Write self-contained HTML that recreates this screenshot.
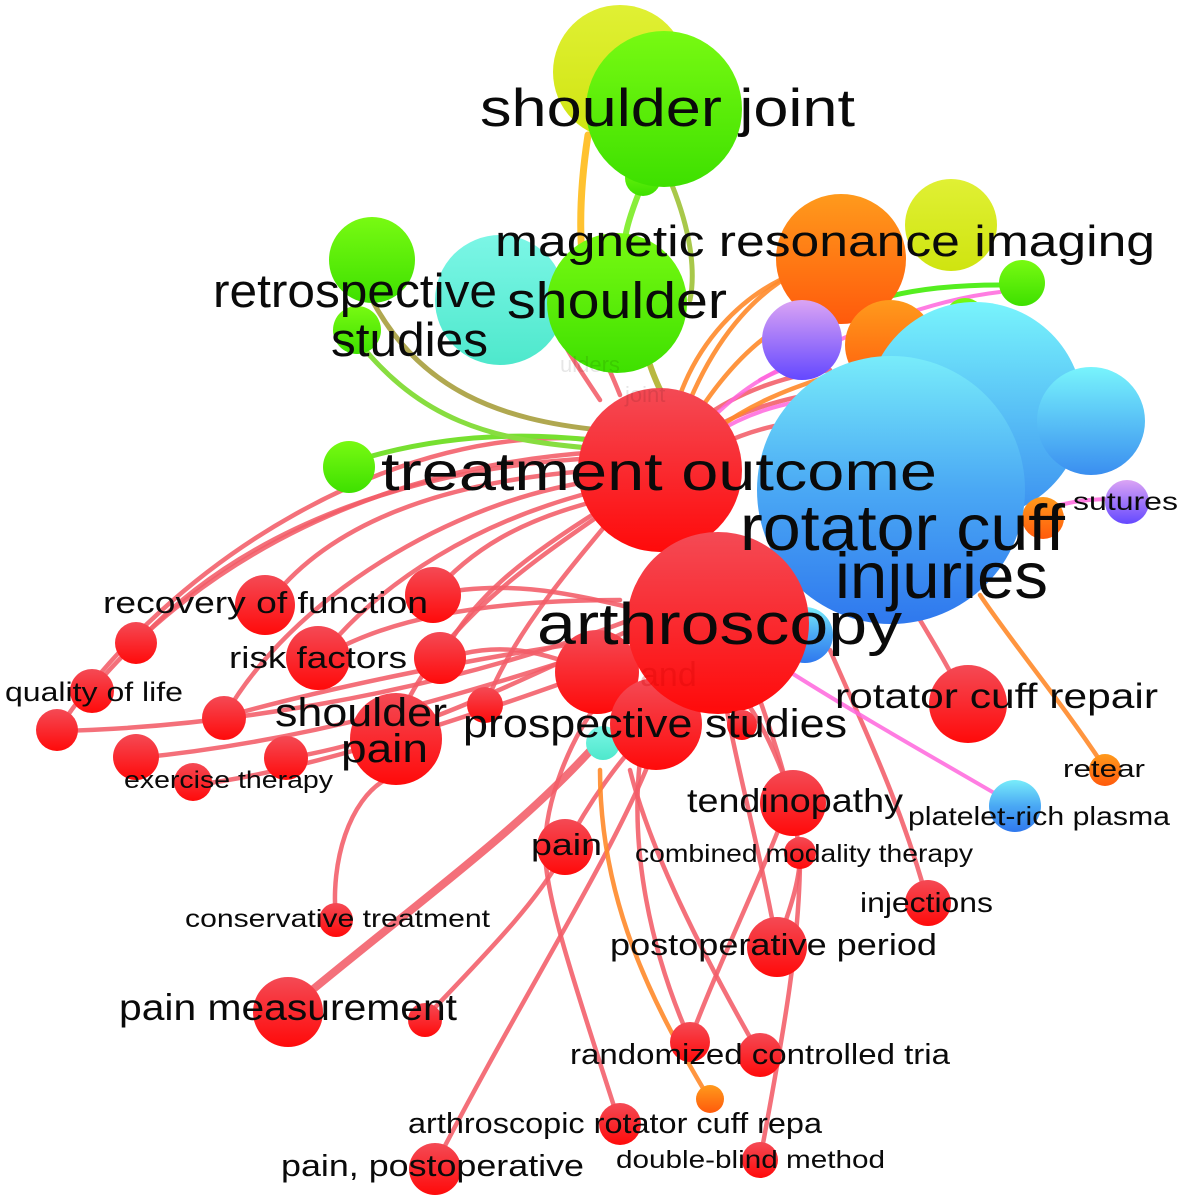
<!DOCTYPE html>
<html><head><meta charset="utf-8"><style>
html,body{margin:0;padding:0;background:#fff;}
svg{display:block;}
text{font-family:"Liberation Sans","DejaVu Sans",sans-serif;fill:#0a0a0a;}
</style></head><body>
<svg width="1181" height="1200" viewBox="0 0 1181 1200" xmlns="http://www.w3.org/2000/svg">
<defs>
<linearGradient id="gr" x1="0" y1="0" x2="0" y2="1"><stop offset="0" stop-color="#f44a55"/><stop offset="1" stop-color="#ff0a0a"/></linearGradient>
<linearGradient id="gg" x1="0" y1="0" x2="0" y2="1"><stop offset="0" stop-color="#78fa12"/><stop offset="1" stop-color="#3ee000"/></linearGradient>
<linearGradient id="gy" x1="0" y1="0" x2="0" y2="1"><stop offset="0" stop-color="#e0f034"/><stop offset="1" stop-color="#cfe410"/></linearGradient>
<linearGradient id="go" x1="0" y1="0" x2="0" y2="1"><stop offset="0" stop-color="#ff9a1c"/><stop offset="1" stop-color="#ff5a0c"/></linearGradient>
<linearGradient id="gp" x1="0" y1="0" x2="0" y2="1"><stop offset="0" stop-color="#dba4f4"/><stop offset="1" stop-color="#6448ff"/></linearGradient>
<linearGradient id="gc" x1="0" y1="0" x2="0" y2="1"><stop offset="0" stop-color="#7cf6e6"/><stop offset="1" stop-color="#4ee8cc"/></linearGradient>
<linearGradient id="glb" x1="0" y1="0" x2="0" y2="1"><stop offset="0" stop-color="#78f4fc"/><stop offset="1" stop-color="#3a8ef0"/></linearGradient>
<linearGradient id="gb" x1="0" y1="0" x2="0" y2="1"><stop offset="0" stop-color="#78ecfa"/><stop offset="0.5" stop-color="#4aa8f4"/><stop offset="1" stop-color="#2f78ee"/></linearGradient>
</defs>

<!-- edges -->
<g fill="none" stroke-linecap="round">
 <g stroke="#f25c68" stroke-opacity="0.88" stroke-width="4.5">
  <path d="M600,440 C 400,420 170,560 57,731"/>
  <path d="M600,452 C 380,465 200,560 92,690"/>
  <path d="M600,458 C 430,465 250,520 137,643"/>
  <path d="M600,470 C 450,480 330,520 267,605"/>
  <path d="M600,480 C 450,500 290,600 224,717"/>
  <path d="M600,490 C 480,520 380,580 318,660"/>
  <path d="M600,500 C 520,520 470,550 432,595"/>
  <path d="M600,510 C 520,560 470,600 440,660"/>
  <path d="M600,515 C 520,570 420,640 390,745"/>
  <path d="M610,520 C 560,580 510,640 485,706"/>
  <path d="M57,731 C 200,728 420,700 630,620"/>
  <path d="M137,758 C 300,742 450,700 630,640"/>
  <path d="M195,785 C 300,772 450,725 640,655"/>
  <path d="M288,758 C 400,740 500,690 630,630"/>
  <path d="M440,660 C 500,640 540,650 600,675"/>
  <path d="M432,595 C 500,580 560,590 640,610"/>
  <path d="M318,660 C 380,620 480,600 620,600"/>
  <path d="M224,717 C 320,690 460,660 600,640"/>
  <path d="M288,1010 C 420,900 520,830 600,740" stroke-width="8"/>
  <path d="M336,920 C 330,860 350,800 385,780"/>
  <path d="M425,1018 C 480,960 540,900 565,850"/>
  <path d="M435,1165 C 520,1000 610,860 650,760"/>
  <path d="M620,1125 C 580,1000 545,900 545,850 C 545,800 570,740 600,700"/>
  <path d="M565,848 C 590,800 620,760 640,740"/>
  <path d="M690,1040 C 720,960 760,880 790,800"/>
  <path d="M760,1055 C 700,950 650,850 630,770"/>
  <path d="M760,1160 C 780,1050 800,950 800,855"/>
  <path d="M777,945 C 790,910 800,880 800,855"/>
  <path d="M777,945 C 760,850 735,760 725,700"/>
  <path d="M793,803 C 780,760 760,720 745,700"/>
  <path d="M800,855 C 790,780 770,730 760,700"/>
  <path d="M928,903 C 900,800 860,720 830,650"/>
  <path d="M968,705 C 950,670 935,645 920,620"/>
  <path d="M690,1040 C 650,950 630,850 640,760"/>
  <path d="M700,420 C 740,390 790,375 830,370"/>
  <path d="M710,430 C 760,400 810,395 860,385"/>
  <path d="M720,445 C 770,420 820,420 870,410"/>
  <path d="M600,400 C 580,370 570,355 565,345"/>
  <path d="M620,395 C 610,370 605,360 600,350"/>
 </g>
 <g stroke="#ff66dd" stroke-opacity="0.85" stroke-width="4">
  <path d="M1015,805 C 920,750 850,710 790,672"/>
  <path d="M1127,500 C 1100,498 1080,500 1060,505"/>
  <path d="M1000,292 C 930,300 850,330 760,380"/>
  <path d="M705,425 C 740,390 770,370 800,365"/>
  <path d="M712,435 C 760,405 800,400 850,395"/>
 </g>
 <g stroke="#ff8a2a" stroke-opacity="0.9" stroke-width="4.5">
  <path d="M1105,768 C 1060,700 1010,640 980,595"/>
  <path d="M710,1100 C 650,1000 600,900 600,770"/>
  <path d="M690,400 C 720,330 760,290 800,270"/>
  <path d="M700,410 C 740,350 780,320 820,310"/>
  <path d="M680,395 C 700,340 740,300 780,280"/>
  <path d="M715,430 C 770,390 820,380 880,360"/>
 </g>
 <path d="M588,135 C 578,200 578,260 590,300" stroke="#ffc230" stroke-width="7"/>
 <path d="M640,190 C 632,210 626,228 625,240" stroke="#88ee3a" stroke-width="6"/>
 <path d="M672,185 C 690,230 696,270 690,300" stroke="#a8c84a" stroke-width="5"/>
 <path d="M650,365 C 655,380 660,390 665,400" stroke="#b8b840" stroke-width="6"/>
 <path d="M1000,285 C 930,285 870,295 830,320" stroke="#55ee20" stroke-width="5"/>
 <path d="M348,463 C 420,440 500,430 590,440" stroke="#77e030" stroke-width="5"/>
 <path d="M372,300 C 420,390 500,420 600,430" stroke="#b0a850" stroke-width="5"/>
 <path d="M357,340 C 420,420 490,440 590,448" stroke="#88dd40" stroke-width="5"/>
</g>

<!-- nodes -->
<g>
 <circle cx="620" cy="72" r="67" fill="url(#gy)"/>
 <circle cx="643" cy="178" r="18" fill="url(#gg)"/>
 <circle cx="664" cy="109" r="78" fill="url(#gg)"/>
 <circle cx="500" cy="300" r="65" fill="url(#gc)"/>
 <circle cx="372" cy="260" r="43" fill="url(#gg)"/>
 <circle cx="357" cy="330" r="24" fill="url(#gg)"/>
 <circle cx="617" cy="303" r="70" fill="url(#gg)"/>
 <circle cx="951" cy="225" r="46" fill="url(#gy)"/>
 <circle cx="841" cy="259" r="65" fill="url(#go)"/>
 <circle cx="802" cy="340" r="40" fill="url(#gp)"/>
 <circle cx="890" cy="345" r="45" fill="url(#go)"/>
 <circle cx="965" cy="318" r="20" fill="url(#gg)"/>
 <circle cx="975" cy="410" r="108" fill="url(#glb)"/>
 <circle cx="1091" cy="421" r="54" fill="url(#glb)"/>
 <circle cx="1043" cy="518" r="21" fill="url(#go)"/>
 <circle cx="891" cy="490" r="134" fill="url(#gb)"/>
 <circle cx="1022" cy="283" r="23" fill="url(#gg)"/>
 <circle cx="1127" cy="502" r="22" fill="url(#gp)"/>
 <circle cx="349" cy="467" r="26" fill="url(#gg)"/>

 <circle cx="660" cy="470" r="82" fill="url(#gr)"/>
 <circle cx="805" cy="635" r="28" fill="url(#gb)"/>
 <circle cx="597" cy="672" r="42" fill="url(#gr)"/>
 <circle cx="603" cy="743" r="17" fill="url(#gc)"/>
 <circle cx="656" cy="724" r="46" fill="url(#gr)"/>
 <circle cx="718" cy="623" r="91" fill="url(#gr)"/>
 <circle cx="742" cy="725" r="15" fill="url(#gr)"/>

 <circle cx="433" cy="595" r="28" fill="url(#gr)"/>
 <circle cx="265" cy="605" r="30" fill="url(#gr)"/>
 <circle cx="136" cy="643" r="21" fill="url(#gr)"/>
 <circle cx="318" cy="658" r="32" fill="url(#gr)"/>
 <circle cx="440" cy="658" r="26" fill="url(#gr)"/>
 <circle cx="92" cy="691" r="22" fill="url(#gr)"/>
 <circle cx="57" cy="730" r="21" fill="url(#gr)"/>
 <circle cx="224" cy="718" r="22" fill="url(#gr)"/>
 <circle cx="485" cy="705" r="18" fill="url(#gr)"/>
 <circle cx="396" cy="739" r="46" fill="url(#gr)"/>
 <circle cx="136" cy="757" r="23" fill="url(#gr)"/>
 <circle cx="286" cy="758" r="22" fill="url(#gr)"/>
 <circle cx="193" cy="782" r="19" fill="url(#gr)"/>

 <circle cx="968" cy="704" r="39" fill="url(#gr)"/>
 <circle cx="1105" cy="770" r="16" fill="url(#go)"/>
 <circle cx="1015" cy="806" r="26" fill="url(#gb)"/>
 <circle cx="793" cy="803" r="33" fill="url(#gr)"/>
 <circle cx="800" cy="853" r="16" fill="url(#gr)"/>
 <circle cx="928" cy="903" r="23" fill="url(#gr)"/>
 <circle cx="565" cy="847" r="28" fill="url(#gr)"/>
 <circle cx="336" cy="920" r="17" fill="url(#gr)"/>
 <circle cx="777" cy="947" r="30" fill="url(#gr)"/>
 <circle cx="288" cy="1012" r="35" fill="url(#gr)"/>
 <circle cx="425" cy="1020" r="17" fill="url(#gr)"/>
 <circle cx="690" cy="1042" r="20" fill="url(#gr)"/>
 <circle cx="760" cy="1055" r="22" fill="url(#gr)"/>
 <circle cx="710" cy="1099" r="14" fill="url(#go)"/>
 <circle cx="620" cy="1124" r="21" fill="url(#gr)"/>
 <circle cx="435" cy="1169" r="26" fill="url(#gr)"/>
 <circle cx="760" cy="1160" r="18" fill="url(#gr)"/>
</g>

<!-- faded labels -->
<g style="fill:#000" fill-opacity="0.1" font-size="22">
 <text x="560" y="372">ulders</text>
 <text x="625" y="402">joint</text>
 <text x="640" y="686" font-size="34" style="fill:#c00" fill-opacity="0.25">and</text>
</g>

<!-- labels -->
<g>
 <text x="480" y="126" font-size="53" textLength="375" lengthAdjust="spacingAndGlyphs">shoulder joint</text>
 <text x="495" y="256" font-size="44" textLength="660" lengthAdjust="spacingAndGlyphs">magnetic resonance imaging</text>
 <text x="213" y="307" font-size="47" textLength="284" lengthAdjust="spacingAndGlyphs">retrospective</text>
 <text x="331" y="356" font-size="47" textLength="157" lengthAdjust="spacingAndGlyphs">studies</text>
 <text x="507" y="318" font-size="51" textLength="220" lengthAdjust="spacingAndGlyphs">shoulder</text>
 <text x="381" y="490" font-size="54" textLength="556" lengthAdjust="spacingAndGlyphs">treatment outcome</text>
 <text x="740" y="550" font-size="65" textLength="325" lengthAdjust="spacingAndGlyphs">rotator cuff</text>
 <text x="835" y="598" font-size="65" textLength="213" lengthAdjust="spacingAndGlyphs">injuries</text>
 <text x="1073" y="510" font-size="25" textLength="105" lengthAdjust="spacingAndGlyphs">sutures</text>
 <text x="537" y="644" font-size="58" textLength="365" lengthAdjust="spacingAndGlyphs">arthroscopy</text>
 <text x="103" y="613" font-size="31" textLength="325" lengthAdjust="spacingAndGlyphs">recovery of function</text>
 <text x="229" y="668" font-size="31" textLength="178" lengthAdjust="spacingAndGlyphs">risk factors</text>
 <text x="5" y="701" font-size="27" textLength="178" lengthAdjust="spacingAndGlyphs">quality of life</text>
 <text x="275" y="726" font-size="40" textLength="172" lengthAdjust="spacingAndGlyphs">shoulder</text>
 <text x="341" y="762" font-size="40" textLength="87" lengthAdjust="spacingAndGlyphs">pain</text>
 <text x="463" y="737" font-size="40" textLength="384" lengthAdjust="spacingAndGlyphs">prospective studies</text>
 <text x="835" y="708" font-size="35" textLength="323" lengthAdjust="spacingAndGlyphs">rotator cuff repair</text>
 <text x="124" y="788" font-size="24" textLength="209" lengthAdjust="spacingAndGlyphs">exercise therapy</text>
 <text x="1063" y="777" font-size="24" textLength="82" lengthAdjust="spacingAndGlyphs">retear</text>
 <text x="687" y="812" font-size="33" textLength="216" lengthAdjust="spacingAndGlyphs">tendinopathy</text>
 <text x="908" y="825" font-size="26" textLength="262" lengthAdjust="spacingAndGlyphs">platelet-rich plasma</text>
 <text x="531" y="855" font-size="31" textLength="71" lengthAdjust="spacingAndGlyphs">pain</text>
 <text x="635" y="862" font-size="25" textLength="338" lengthAdjust="spacingAndGlyphs">combined modality therapy</text>
 <text x="860" y="912" font-size="28" textLength="133" lengthAdjust="spacingAndGlyphs">injections</text>
 <text x="185" y="927" font-size="25" textLength="305" lengthAdjust="spacingAndGlyphs">conservative treatment</text>
 <text x="610" y="955" font-size="31" textLength="327" lengthAdjust="spacingAndGlyphs">postoperative period</text>
 <text x="119" y="1020" font-size="37" textLength="338" lengthAdjust="spacingAndGlyphs">pain measurement</text>
 <text x="570" y="1064" font-size="29" textLength="380" lengthAdjust="spacingAndGlyphs">randomized controlled tria</text>
 <text x="408" y="1133" font-size="29" textLength="414" lengthAdjust="spacingAndGlyphs">arthroscopic rotator cuff repa</text>
 <text x="281" y="1176" font-size="31" textLength="303" lengthAdjust="spacingAndGlyphs">pain, postoperative</text>
 <text x="616" y="1168" font-size="25" textLength="269" lengthAdjust="spacingAndGlyphs">double-blind method</text>
</g>
</svg>
</body></html>
